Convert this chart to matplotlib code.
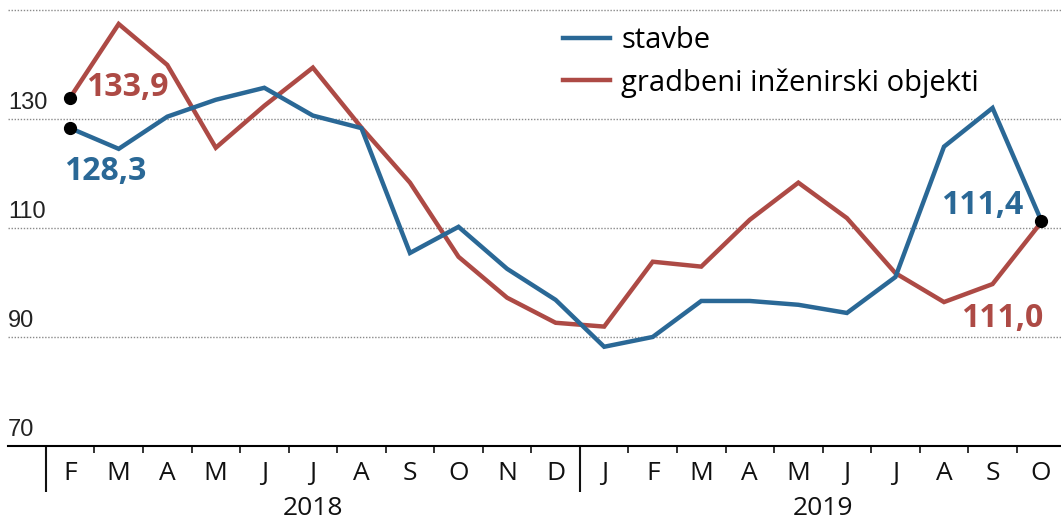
import numpy as np
import matplotlib
matplotlib.use("Agg")
import matplotlib.pyplot as plt

# data: monthly index, Feb 2018 - Oct 2019
months = ["F", "M", "A", "M", "J", "J", "A", "S", "O", "N", "D",
          "J", "F", "M", "A", "M", "J", "J", "A", "S", "O"]
years = ["2018", "2019"]
stavbe = [128.3, 124.5, 130.4, 133.5, 135.7, 130.6, 128.3, 105.4, 110.2, 102.5, 96.8,
          88.2, 90.0, 96.6, 96.6, 95.9, 94.4, 101.0, 124.9, 132.0, 111.4]
objekti = [133.9, 147.4, 139.9, 124.7, 132.4, 139.4, 128.4, 118.3, 104.7, 97.2, 92.6,
           91.9, 103.8, 102.9, 111.5, 118.3, 111.8, 101.7, 96.4, 99.7, 111.0]
yticks = [70, 90, 110, 130]
grid_y = [90, 110, 130, 150]

BLUE = "#2a6896"
RED = "#ad4a45"
FONT = ["Open Sans", "DejaVu Sans"]
NARROW = ["Liberation Sans Narrow", "Liberation Sans", "DejaVu Sans"]
plt.rcParams["font.family"] = FONT

x = np.arange(1, len(months) + 1)

fig = plt.figure(figsize=(10.61, 5.22), dpi=100)
ax = fig.add_axes([8 / 1061, 76 / 522, 1053 / 1061, 446 / 522])
ax.set_xlim(-0.28, 21.41)
ax.set_ylim(70, 151.8)

# dotted gridlines
for g in grid_y:
    ax.axhline(g, color="#8a8a8a", lw=1, ls=(0, (1, 1.2)), zorder=1)

# y labels sit above their gridline
for v in yticks:
    ax.annotate(str(v), xy=(0, v), xycoords=ax.get_yaxis_transform(),
                xytext=(0, 5), textcoords="offset pixels", ha="left", va="bottom",
                fontsize=17, family=NARROW, color="#222222")

ax.plot(x, stavbe, color=BLUE, lw=3.2, solid_joinstyle="miter", label="stavbe", zorder=3)
ax.plot(x, objekti, color=RED, lw=3.2, solid_joinstyle="miter",
        label="gradbeni inženirski objekti", zorder=2)

# end points
ax.plot([x[0], x[0]], [stavbe[0], objekti[0]], "o", color="black", ms=8.5, zorder=4)
ax.plot([x[-1]], [(stavbe[-1] + objekti[-1]) / 2], "o", color="black", ms=8.5, zorder=4)

def fmt(v):
    return ("%.1f" % v).replace(".", ",")

lab = dict(fontsize=23, fontweight="bold", textcoords="offset pixels", va="center")
ax.annotate(fmt(objekti[0]), (x[0], objekti[0]), xytext=(16, 10), ha="left", color=RED, **lab)
ax.annotate(fmt(stavbe[0]), (x[0], stavbe[0]), xytext=(-6, -43), ha="left", color=BLUE, **lab)
ax.annotate(fmt(stavbe[-1]), (x[-1], stavbe[-1]), xytext=(-18, 15), ha="right", color=BLUE, **lab)
ax.annotate(fmt(objekti[-1]), (x[-1], objekti[-1]), xytext=(2, -96), ha="right", color=RED, **lab)

# axes styling
for s in ["top", "right", "left"]:
    ax.spines[s].set_visible(False)
ax.spines["bottom"].set_linewidth(1.5)
ax.set_yticks([])

ax.set_xticks(x)
ax.set_xticklabels(months, fontsize=19, color="#111111")
ax.tick_params(axis="x", which="major", length=0, pad=11)
minor = np.arange(1.5, 21, 1)
ax.set_xticks(minor[minor != 11.5], minor=True)
ax.tick_params(axis="x", which="minor", length=5, width=1.2, direction="out", color="#111111")

# year separators and year labels
sep = ax.secondary_xaxis("bottom")
sep.set_xticks([0.5, 11.5])
sep.set_xticklabels(["", ""])
sep.tick_params(length=33, width=1.5, color="#111111")
sep.spines["bottom"].set_visible(False)

yr = ax.secondary_xaxis("bottom")
yr.set_xticks([6, 16.5])
yr.set_xticklabels(years, fontsize=19, color="#111111")
yr.tick_params(length=0, pad=36)
yr.spines["bottom"].set_visible(False)

ax.legend(loc="upper left", bbox_to_anchor=(563 / 1061, 1 - 26 / 522),
          bbox_transform=fig.transFigure, frameon=False, fontsize=21,
          handlelength=1.6, handletextpad=0.4, labelspacing=0.45, borderpad=0,
          borderaxespad=0)

fig.savefig("out.png", dpi=100)
